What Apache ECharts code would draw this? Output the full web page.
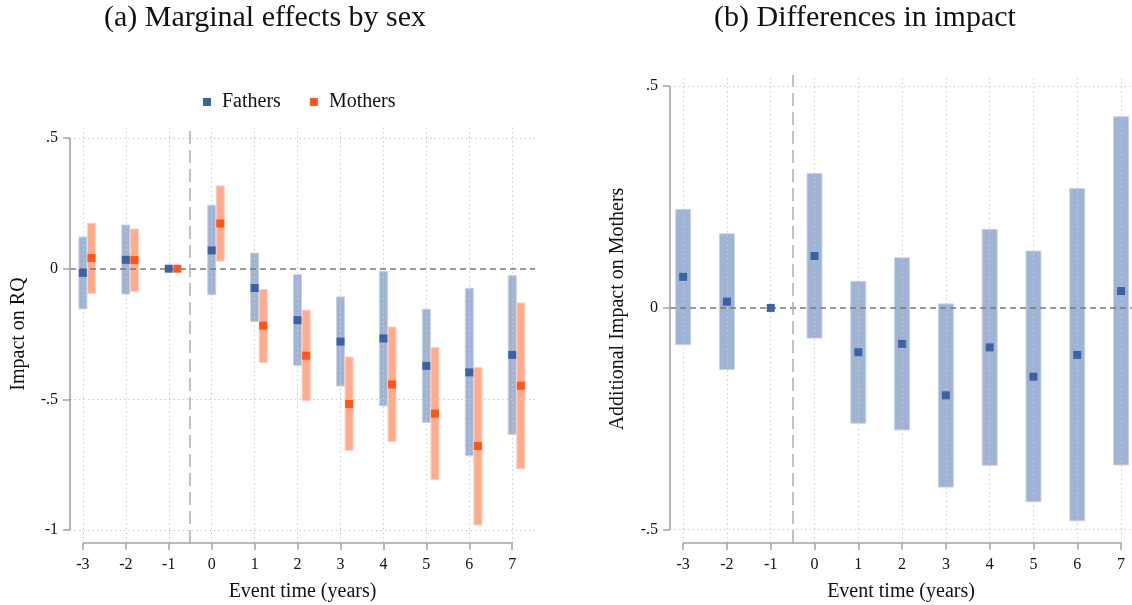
<!DOCTYPE html>
<html>
<head>
<meta charset="utf-8">
<script src="https://cdn.jsdelivr.net/npm/echarts@6.0.0/dist/echarts.min.js"></script>
<style>
  html, body { margin: 0; padding: 0; background: #ffffff; }
  #chart { width: 1132px; height: 605px; }
</style>
</head>
<body>
<div id="chart"></div>
<script>
// Event-study estimates: point estimates with 95% confidence bounds
const eventTime = [-3, -2, -1, 0, 1, 2, 3, 4, 5, 6, 7];

const fathersEst = [-0.016, 0.034, 0, 0.070, -0.074, -0.197, -0.279, -0.267, -0.372, -0.397, -0.330];
const fathersLo  = [-0.154, -0.097, 0, -0.100, -0.202, -0.370, -0.449, -0.525, -0.589, -0.716, -0.634];
const fathersHi  = [0.121, 0.167, 0, 0.243, 0.060, -0.023, -0.108, -0.010, -0.155, -0.075, -0.026];

const mothersEst = [0.041, 0.033, 0, 0.173, -0.218, -0.333, -0.518, -0.443, -0.555, -0.679, -0.448];
const mothersLo  = [-0.095, -0.087, 0, 0.029, -0.359, -0.505, -0.695, -0.662, -0.808, -0.981, -0.766];
const mothersHi  = [0.174, 0.152, 0, 0.317, -0.080, -0.159, -0.338, -0.223, -0.302, -0.378, -0.131];

const diffEst = [0.070, 0.014, 0, 0.117, -0.100, -0.081, -0.197, -0.089, -0.155, -0.106, 0.038];
const diffLo  = [-0.083, -0.139, 0, -0.068, -0.260, -0.275, -0.404, -0.355, -0.437, -0.480, -0.354];
const diffHi  = [0.222, 0.167, 0, 0.303, 0.060, 0.113, 0.009, 0.177, 0.128, 0.269, 0.431];

const xTicks = [-3, -2, -1, 0, 1, 2, 3, 4, 5, 6, 7];
const yTicksA = [0.5, 0, -0.5, -1];
const yTicksB = [0.5, 0, -0.5];

const titleA = '(a) Marginal effects by sex';
const titleB = '(b) Differences in impact';

// ---- styling ----
const FONT = 'Liberation Serif';
const BLUE = '#3b63a2';
const BLUE_CI = '#9fb3d4';
const BLUE_CI_EDGE = '#c6d3e8';
const ORANGE = '#ff561c';
const ORANGE_CI = '#ffab8e';
const ORANGE_CI_EDGE = '#ffcfbd';
const AXIS_GREY = '#a4a4a4';
const GRID_GREY = '#cbcbcb';

// axis extents (tick range plus Stata-like padding)
const XA = { min: -3.3, max: 7.53 };
const YA = { min: -1.05, max: 0.55 };
const XB = { min: -3.3, max: 7.25 };
const YB = { min: -0.53, max: 0.525 };

function fmtTick(v) {
  if (v === 0) return '0';
  const s = String(Math.abs(v)).replace(/^0\./, '.');
  return (v < 0 ? '-' : '') + s;
}

function xAxisCfg(gridIndex, ext) {
  return {
    type: 'value', gridIndex, min: ext.min, max: ext.max,
    axisLine: { show: false, onZero: false },
    splitLine: { show: false },
    axisTick: { show: true, customValues: xTicks, length: 7, lineStyle: { color: AXIS_GREY, width: 1.5 } },
    axisLabel: { customValues: xTicks, formatter: fmtTick, margin: 14, color: '#111', fontFamily: FONT, fontSize: 16 },
    name: 'Event time (years)', nameLocation: 'middle', nameGap: 39,
    nameTextStyle: { color: '#111', fontFamily: FONT, fontSize: 20 }
  };
}

function yAxisCfg(gridIndex, ext, ticks, name, gap) {
  return {
    type: 'value', gridIndex, min: ext.min, max: ext.max,
    axisLine: { show: false, onZero: false },
    splitLine: { show: false },
    axisTick: { show: true, customValues: ticks, length: 7, lineStyle: { color: AXIS_GREY, width: 1.5 } },
    axisLabel: { customValues: ticks, formatter: fmtTick, margin: 12, color: '#111', fontFamily: FONT, fontSize: 16 },
    name, nameLocation: 'middle', nameGap: gap,
    nameTextStyle: { color: '#111', fontFamily: FONT, fontSize: 20 }
  };
}

// confidence interval bars drawn as fixed-width rectangles between lo and hi
function ciSeries(axisIdx, lo, hi, offset, width, fill, edge) {
  const data = [];
  eventTime.forEach((t, i) => { if (lo[i] !== hi[i]) data.push([t + offset, lo[i], hi[i]]); });
  return {
    type: 'custom', xAxisIndex: axisIdx, yAxisIndex: axisIdx, silent: true, z: 3,
    data, encode: { x: 0, y: [1, 2] },
    renderItem(params, api) {
      const x = api.value(0);
      const top = api.coord([x, api.value(2)]);
      const bot = api.coord([x, api.value(1)]);
      return {
        type: 'rect',
        shape: { x: top[0] - width / 2, y: top[1], width, height: bot[1] - top[1] },
        style: { fill, stroke: edge, lineWidth: 1 }
      };
    }
  };
}

function pointSeries(name, axisIdx, est, offset, color) {
  return {
    name, type: 'scatter', xAxisIndex: axisIdx, yAxisIndex: axisIdx, z: 5,
    symbol: 'rect', symbolSize: 8, silent: true,
    itemStyle: { color, opacity: 1 },
    data: eventTime.map((t, i) => [t + offset, est[i]])
  };
}

// helper series that only carries reference lines in data coordinates
function lineSet(axisIdx, pairs, lineStyle, z) {
  return {
    type: 'line', xAxisIndex: axisIdx, yAxisIndex: axisIdx, data: [], z, silent: true,
    markLine: {
      silent: true, symbol: 'none', animation: false, label: { show: false },
      lineStyle,
      data: pairs.map(p => [{ coord: p[0] }, { coord: p[1] }])
    }
  };
}

function panelLines(axisIdx, xe, ye, yTicks) {
  const hGrid = yTicks.filter(v => v !== 0).map(v => [[xe.min, v], [xe.max, v]]);
  const vGrid = xTicks.map(v => [[v, ye.min], [v, ye.max]]);
  return [
    lineSet(axisIdx, hGrid.concat(vGrid), { color: GRID_GREY, width: 1, type: [1.5, 3] }, 1),
    lineSet(axisIdx, [[[xe.min, 0], [xe.max, 0]]], { color: '#7a7a7a', width: 1.5, type: [6, 4] }, 2),
    lineSet(axisIdx, [[[-0.5, ye.min], [-0.5, ye.max]]], { color: '#b3b3b3', width: 1.6, type: [13, 6] }, 2),
    lineSet(axisIdx, [
      [[xTicks[0], ye.min], [xTicks[xTicks.length - 1], ye.min]],
      [[xe.min, yTicks[0]], [xe.min, yTicks[yTicks.length - 1]]]
    ], { color: AXIS_GREY, width: 1.6, type: 'solid' }, 2)
  ];
}

const chart = echarts.init(document.getElementById('chart'), null, { renderer: 'canvas' });

chart.setOption({
  animation: false,
  backgroundColor: '#ffffff',
  graphic: [
    { type: 'text', x: 265, y: 18, style: { text: titleA, fontFamily: FONT, fontSize: 30, fill: '#111', align: 'center', verticalAlign: 'middle' } },
    { type: 'text', x: 865, y: 18, style: { text: titleB, fontFamily: FONT, fontSize: 30, fill: '#111', align: 'center', verticalAlign: 'middle' } }
  ],
  legend: {
    data: ['Fathers', 'Mothers'],
    left: 203, top: 92, padding: 0,
    itemWidth: 8, itemHeight: 8, itemGap: 29,
    selectedMode: false,
    textStyle: { fontFamily: FONT, fontSize: 20, color: '#111', padding: [0, 0, 0, 6] }
  },
  grid: [
    { left: 70, right: 1132 - 535, top: 125, bottom: 605 - 543, outerBoundsMode: 'none' },
    { left: 670, right: 0, top: 75, bottom: 605 - 543, outerBoundsMode: 'none' }
  ],
  xAxis: [xAxisCfg(0, XA), xAxisCfg(1, XB)],
  yAxis: [
    yAxisCfg(0, YA, yTicksA, 'Impact on RQ', 41),
    yAxisCfg(1, YB, yTicksB, 'Additional Impact on Mothers', 42)
  ],
  series: [
    ...panelLines(0, XA, YA, yTicksA),
    ...panelLines(1, XB, YB, yTicksB),
    ciSeries(0, fathersLo, fathersHi, 0, 8, BLUE_CI, BLUE_CI_EDGE),
    ciSeries(0, mothersLo, mothersHi, 0.2, 8, ORANGE_CI, ORANGE_CI_EDGE),
    pointSeries('Fathers', 0, fathersEst, 0, BLUE),
    pointSeries('Mothers', 0, mothersEst, 0.2, ORANGE),
    ciSeries(1, diffLo, diffHi, 0, 15, BLUE_CI, BLUE_CI_EDGE),
    pointSeries('Difference', 1, diffEst, 0, BLUE)
  ]
});
</script>
</body>
</html>
